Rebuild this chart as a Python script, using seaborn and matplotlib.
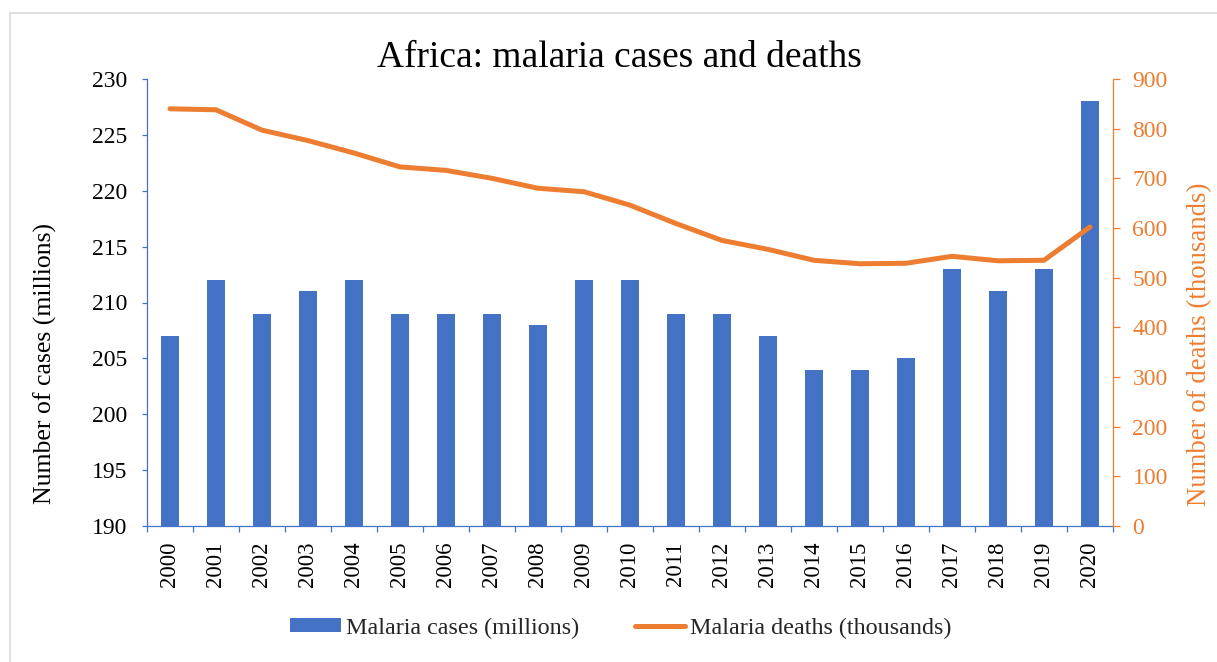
import numpy as np
import matplotlib
matplotlib.use("Agg")
import matplotlib.pyplot as plt
from matplotlib.patches import Patch, Rectangle
from matplotlib.lines import Line2D
import seaborn as sns

years = [str(y) for y in range(2000, 2021)]
cases = [207, 212, 209, 211, 212, 209, 209, 209, 208, 212, 212,
         209, 209, 207, 204, 204, 205, 213, 211, 213, 228]
deaths = [840, 838, 797, 776, 751, 723, 716, 700, 680, 673, 646,
          609, 575, 557, 535, 528, 529, 543, 534, 535, 602]
left_ticks = [190, 195, 200, 205, 210, 215, 220, 225, 230]
right_ticks = [0, 100, 200, 300, 400, 500, 600, 700, 800, 900]

BLUE = "#4472C4"
ORANGE = "#ED7D31"

sns.set_theme(style="white")
plt.rcParams["font.family"] = ["Liberation Serif", "DejaVu Serif"]

W, H = 1217, 662
fig = plt.figure(figsize=(W / 100, H / 100), dpi=100)
ax = fig.add_axes([147 / W, 1 - 526 / H, (1113 - 147) / W, (526 - 79) / H])

sns.barplot(x=years, y=cases, color=BLUE, saturation=1, width=0.4,
            linewidth=0, ax=ax)
ax.set_xlim(-0.5, len(years) - 0.5)
ax.set_ylim(190, 230)
ax.set_yticks(left_ticks)
ax.set_xlabel("")
ax.set_ylabel("")
ax.grid(False)

ax2 = ax.twinx()
sns.lineplot(x=years, y=deaths, color=ORANGE, linewidth=3.6, ax=ax2,
             solid_capstyle="round", sort=False)
ax2.set_ylim(0, 900)
ax2.set_yticks(right_ticks)
ax2.set_ylabel("")
ax2.grid(False)
ax.set_xlim(-0.5, len(years) - 0.5)

# spines
for s in ["top", "right"]:
    ax.spines[s].set_visible(False)
for s in ["left", "bottom"]:
    ax.spines[s].set_color(BLUE)
    ax.spines[s].set_linewidth(0.9)
for s in ["top", "left", "bottom"]:
    ax2.spines[s].set_visible(False)
ax2.spines["right"].set_color(ORANGE)
ax2.spines["right"].set_linewidth(0.9)

# ticks
ax.tick_params(axis="y", which="major", direction="out", length=3.6,
               width=0.9, color=BLUE, pad=10.5, labelsize=17, labelcolor="black",
               left=True)
ax.set_xticks(np.arange(len(years)))
ax.set_xticklabels(years, rotation=90)
ax.set_xticks(np.arange(-0.5, len(years)), minor=True)
ax.tick_params(axis="x", which="major", length=0, pad=11, labelsize=16.5,
               labelcolor="black", bottom=True)
ax.tick_params(axis="x", which="minor", direction="out", length=4.5,
               width=0.9, color=BLUE, bottom=True)
ax2.tick_params(axis="y", which="major", direction="out", length=5,
                width=0.9, color=ORANGE, pad=9, labelsize=17,
                labelcolor=ORANGE, right=True)

# labels
fig.text(45 / W, 1 - 363 / H, "Number of cases (millions)", rotation=90,
         ha="center", va="center", fontsize=18.5, color="black")
fig.text(1200 / W, 1 - 344 / H, "Number of deaths (thousands)", rotation=90,
         ha="center", va="center", fontsize=19.3, color=ORANGE)
fig.text(619 / W, 1 - 58 / H, "Africa: malaria cases and deaths",
         ha="center", va="center", fontsize=27, color="black")

# legend
handles = [Patch(facecolor=BLUE, edgecolor="none"),
           Line2D([], [], color=ORANGE, linewidth=3.6, solid_capstyle="round")]
labels = ["Malaria cases (millions)", "Malaria deaths (thousands)"]
fig.legend(handles, labels, loc="center", bbox_to_anchor=(621 / W, 1 - 628 / H),
           ncol=2, frameon=False, fontsize=17.4, handlelength=2.1,
           handleheight=0.5, handletextpad=0.2, columnspacing=2.3)

# outer border
fig.add_artist(Rectangle((10 / W, -0.05), 1.0, (H - 13) / H + 0.05,
                         transform=fig.transFigure, fill=False,
                         edgecolor="#d9d9d9", linewidth=1.2))

fig.savefig("out.png", dpi=100)
